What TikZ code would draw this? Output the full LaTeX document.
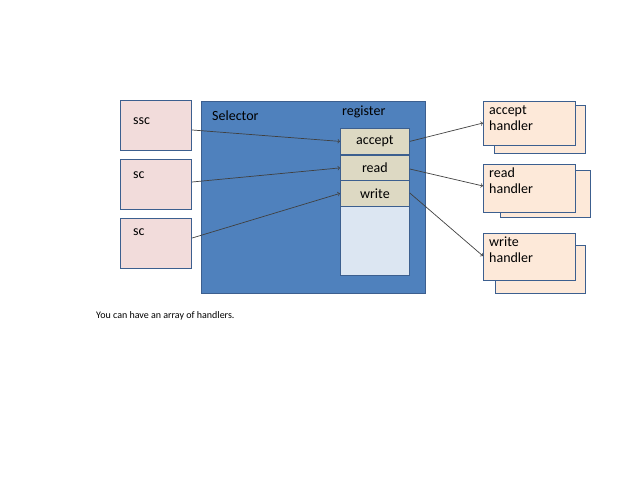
\documentclass[tikz,border=0pt]{standalone}
\usepackage{fontspec}
\setmainfont{Carlito}
\begin{document}
\begin{tikzpicture}[x=1pt,y=-1pt,
 bx/.style={draw=bordc,line width=1.2pt,minimum width=#1},
 pink/.style={fill=pinkc,draw=bordc,line width=1.2pt,anchor=north west,minimum width=71pt,minimum height=50pt,inner sep=0pt},
 hnd/.style={fill=handc,draw=bordc,line width=1.2pt,anchor=north west,minimum width=92pt,minimum height=46pt,inner sep=0pt},
 reg/.style={fill=regc,draw=bordc,line width=0.8pt,anchor=north west,minimum width=69pt,minimum height=26pt,inner sep=0pt,font=\fontsize{14}{14}\selectfont},
 lbl/.style={anchor=north west,inner sep=0pt,font=\fontsize{14}{16}\selectfont,align=left},
 arr/.style={->,draw=arrc,line width=0.7pt}]
\definecolor{bordc}{HTML}{3C5F8F}
\definecolor{pinkc}{HTML}{F2DCDB}
\definecolor{handc}{HTML}{FDE9D9}
\definecolor{selc}{HTML}{4F81BD}
\definecolor{regc}{HTML}{DDD9C3}
\definecolor{blankc}{HTML}{DCE6F2}
\definecolor{arrc}{HTML}{404040}
\useasboundingbox (0,0) rectangle (638,478);
% selector
\node[fill=selc,draw=bordc,line width=1.2pt,anchor=north west,minimum width=224pt,minimum height=192pt,inner sep=0pt] (sel) at (201,101) {};
\node[lbl] (seltxt) at (212,111) {Selector};
\node[lbl] (regtxt) at (342,106) {register};
\node[reg] (acc) at (340,128) {accept};
\node[reg,minimum height=25pt] (rd) at (340,155) {read};
\node[reg] (wr) at (340,180) {write};
\node[fill=blankc,draw=bordc,line width=0.8pt,anchor=north west,minimum width=69pt,minimum height=69pt,inner sep=0pt] (blank) at (340,206) {};
% left boxes
\node[pink] (ssc) at (120,100) {};
\node[lbl] (ssct) at (133,118) {ssc};
\node[pink] (sc1) at (120,159) {};
\node[lbl] (sc1t) at (133,172) {sc};
\node[pink] (sc2) at (120,218) {};
\node[lbl] (sc2t) at (133,229) {sc};
% handlers
\node[hnd,minimum width=91pt,minimum height=48pt] (ah2) at (494,105) {};
\node[hnd,minimum height=44pt] (ah) at (483,101) {};
\node[lbl] (aht) at (489,105) {accept\\handler};
\node[hnd,minimum width=90pt,minimum height=47pt] (rh2) at (500,170) {};
\node[hnd,minimum height=48pt] (rh) at (483,164) {};
\node[lbl] (rht) at (489,168) {read\\handler};
\node[hnd,minimum width=90pt,minimum height=48pt] (wh2) at (495,245) {};
\node[hnd,minimum height=47pt] (wh) at (483,233) {};
\node[lbl] (wht) at (489,237) {write\\handler};
% arrows
\draw[arr] (ssc.east |- 0,130) -- (acc.west);
\draw[arr] (sc1.east |- 0,182) -- (rd.west);
\draw[arr] (sc2.east |- 0,238) -- (wr.west);
\draw[arr] (acc.east) -- (ah.west |- 0,123);
\draw[arr] (rd.east |- 0,169) -- (rh.west |- 0,186);
\draw[arr] (wr.east |- 0,193) -- (wh.west |- 0,256);
\node[anchor=west,inner sep=0pt,font=\fontsize{10}{12}\selectfont] (note) at (96,316) {You can have an array of handlers.};
\end{tikzpicture}
\end{document}
